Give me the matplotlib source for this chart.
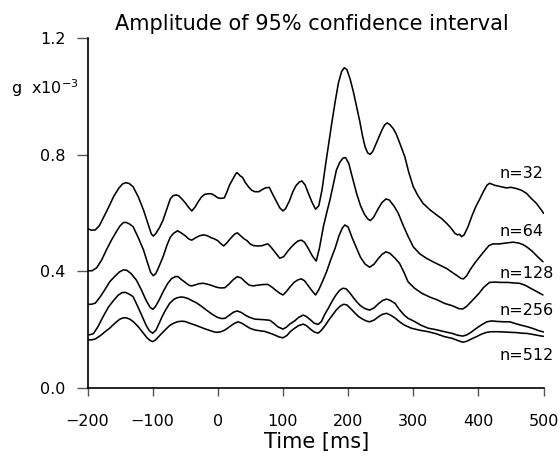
import matplotlib
matplotlib.use("Agg")
import matplotlib.pyplot as plt

plt.rcParams['font.family'] = ['DejaVu Sans']

title = "Amplitude of 95% confidence interval"
xlabel = "Time [ms]"
ylabel = "g  x10$^{-3}$"
labels = ["n=32", "n=64", "n=128", "n=256", "n=512"]
label_y = [0.737, 0.535, 0.394, 0.267, 0.110]
label_x = 432
xticks = [-200, -100, 0, 100, 200, 300, 400, 500]
yticks = [0.0, 0.4, 0.8, 1.2]

x32 = [-200, -194, -188, -182, -176, -168, -160, -152, -146, -141, -136, -130, -122, -114, -107, -102, -99, -95, -89,
       -84, -78, -73, -69, -64, -60, -55, -50, -45, -40, -35, -30, -25, -20, -15, -10, -5, 0, 5, 10, 14, 18, 23, 28, 30,
       34, 38, 42, 47, 52, 57, 63, 68, 73, 79, 84, 90, 95, 100, 104, 110, 115, 120, 125, 129, 134, 139, 145, 150, 155,
       160, 165, 170, 175, 180, 185, 190, 194, 198, 203, 208, 213, 218, 222, 226, 230, 234, 238, 242, 247, 252, 256,
       260, 264, 269, 274, 280, 287, 293, 300, 307, 315, 325, 336, 344, 351, 358, 364, 368, 371, 374, 378, 384, 390,
       396, 402, 408, 413, 417, 425, 435, 443, 450, 458, 466, 474, 481, 489, 495, 500]
v32 = [0.547, 0.541, 0.542, 0.556, 0.582, 0.618, 0.656, 0.685, 0.700, 0.704, 0.701, 0.690, 0.655, 0.610, 0.562, 0.528,
       0.521, 0.530, 0.552, 0.576, 0.615, 0.648, 0.659, 0.662, 0.659, 0.648, 0.635, 0.620, 0.607, 0.620, 0.639, 0.655,
       0.664, 0.666, 0.666, 0.660, 0.652, 0.650, 0.652, 0.672, 0.696, 0.716, 0.736, 0.738, 0.728, 0.722, 0.705, 0.690,
       0.678, 0.673, 0.673, 0.680, 0.686, 0.688, 0.665, 0.639, 0.618, 0.607, 0.615, 0.642, 0.672, 0.694, 0.706, 0.710,
       0.696, 0.667, 0.635, 0.613, 0.625, 0.680, 0.760, 0.835, 0.910, 0.980, 1.045, 1.085, 1.098, 1.092, 1.060, 1.016,
       0.965, 0.913, 0.865, 0.827, 0.806, 0.801, 0.812, 0.833, 0.860, 0.885, 0.902, 0.909, 0.903, 0.890, 0.870, 0.835,
       0.793, 0.740, 0.690, 0.660, 0.633, 0.612, 0.593, 0.580, 0.565, 0.548, 0.530, 0.525, 0.527, 0.519, 0.525, 0.553,
       0.590, 0.622, 0.648, 0.675, 0.695, 0.702, 0.695, 0.690, 0.686, 0.688, 0.684, 0.678, 0.667, 0.650, 0.633, 0.615,
       0.599]

x64 = [-200, -193, -186, -178, -170, -163, -156, -150, -145, -141, -136, -130, -122, -114, -108, -103, -99, -95, -90,
       -84, -78, -73, -68, -62, -57, -50, -44, -40, -34, -28, -22, -16, -10, -5, 0, 5, 9, 14, 20, 26, 30, 35, 40, 45, 50,
       55, 62, 68, 73, 77, 82, 88, 95, 101, 107, 113, 118, 123, 128, 133, 139, 145, 151, 156, 162, 167, 172, 177, 182,
       187, 192, 196, 201, 207, 213, 219, 225, 230, 234, 239, 246, 252, 258, 263, 270, 277, 284, 292, 300, 310, 320,
       330, 340, 351, 360, 368, 373, 377, 382, 388, 395, 402, 410, 416, 422, 432, 442, 453, 462, 468, 474, 482, 490, 499]
v64 = [0.402, 0.402, 0.412, 0.440, 0.478, 0.508, 0.535, 0.556, 0.567, 0.568, 0.563, 0.553, 0.515, 0.473, 0.430, 0.396,
       0.385, 0.393, 0.418, 0.450, 0.490, 0.517, 0.530, 0.539, 0.533, 0.522, 0.510, 0.507, 0.515, 0.522, 0.525, 0.522,
       0.515, 0.511, 0.505, 0.494, 0.487, 0.498, 0.514, 0.528, 0.532, 0.522, 0.512, 0.505, 0.493, 0.488, 0.487, 0.488,
       0.492, 0.494, 0.482, 0.465, 0.445, 0.450, 0.468, 0.484, 0.495, 0.504, 0.507, 0.500, 0.478, 0.453, 0.435, 0.480,
       0.553, 0.600, 0.644, 0.695, 0.747, 0.773, 0.788, 0.790, 0.770, 0.718, 0.667, 0.625, 0.596, 0.580, 0.574, 0.585,
       0.614, 0.636, 0.648, 0.645, 0.625, 0.599, 0.560, 0.520, 0.484, 0.460, 0.445, 0.433, 0.422, 0.410, 0.396, 0.384,
       0.376, 0.374, 0.385, 0.408, 0.430, 0.450, 0.472, 0.488, 0.494, 0.494, 0.497, 0.500, 0.497, 0.492, 0.484, 0.470,
       0.452, 0.433]

x128 = [-200, -194, -188, -180, -172, -166, -158, -151, -145, -140, -133, -125, -117, -110, -104, -100, -96, -90, -84,
        -77, -71, -65, -61, -56, -50, -44, -40, -34, -28, -22, -16, -10, -4, 1, 6, 11, 17, 23, 30, 36, 42, 48, 54, 60,
        66, 72, 77, 83, 89, 95, 100, 105, 111, 117, 123, 128, 133, 139, 145, 150, 155, 161, 167, 173, 180, 186, 191,
        195, 200, 206, 213, 219, 226, 233, 240, 246, 252, 258, 264, 272, 279, 286, 292, 302, 313, 325, 337, 348, 360,
        370, 376, 382, 388, 394, 401, 408, 417, 425, 435, 445, 455, 463, 472, 480, 490, 499]
v128 = [0.287, 0.287, 0.291, 0.314, 0.342, 0.364, 0.383, 0.398, 0.405, 0.404, 0.392, 0.370, 0.335, 0.300, 0.277, 0.270,
        0.278, 0.302, 0.330, 0.358, 0.375, 0.382, 0.382, 0.372, 0.362, 0.352, 0.350, 0.354, 0.358, 0.359, 0.356, 0.352,
        0.347, 0.344, 0.343, 0.344, 0.356, 0.370, 0.382, 0.377, 0.364, 0.353, 0.350, 0.352, 0.354, 0.355, 0.355, 0.346,
        0.335, 0.325, 0.319, 0.330, 0.347, 0.362, 0.371, 0.374, 0.368, 0.350, 0.332, 0.319, 0.337, 0.367, 0.399, 0.438,
        0.479, 0.522, 0.548, 0.559, 0.552, 0.516, 0.479, 0.448, 0.425, 0.414, 0.425, 0.443, 0.458, 0.467, 0.462, 0.445,
        0.427, 0.395, 0.364, 0.342, 0.325, 0.312, 0.302, 0.290, 0.282, 0.272, 0.271, 0.280, 0.294, 0.308, 0.325, 0.345,
        0.362, 0.363, 0.362, 0.362, 0.360, 0.359, 0.352, 0.342, 0.330, 0.319]

x256 = [-200, -196, -191, -184, -176, -168, -160, -153, -147, -142, -136, -130, -123, -116, -110, -105, -100, -95, -90,
        -85, -80, -74, -68, -63, -57, -52, -46, -40, -32, -25, -18, -10, -3, 1, 6, 11, 18, 24, 30, 36, 42, 48, 57, 65,
        72, 80, 86, 92, 100, 105, 111, 118, 124, 131, 136, 142, 148, 154, 159, 164, 170, 175, 181, 187, 192, 197, 203,
        208, 213, 219, 226, 233, 240, 247, 253, 259, 265, 272, 279, 286, 292, 302, 312, 323, 335, 348, 360, 368, 376,
        382, 388, 397, 405, 413, 420, 430, 440, 448, 458, 466, 475, 485, 492, 500]
v256 = [0.182, 0.183, 0.186, 0.210, 0.245, 0.277, 0.300, 0.318, 0.327, 0.328, 0.322, 0.313, 0.280, 0.245, 0.215, 0.196,
        0.188, 0.198, 0.222, 0.247, 0.268, 0.290, 0.303, 0.309, 0.312, 0.311, 0.307, 0.300, 0.291, 0.280, 0.268, 0.255,
        0.245, 0.241, 0.238, 0.239, 0.250, 0.260, 0.264, 0.259, 0.250, 0.243, 0.236, 0.235, 0.234, 0.232, 0.222, 0.210,
        0.202, 0.208, 0.220, 0.230, 0.242, 0.250, 0.245, 0.234, 0.222, 0.218, 0.228, 0.252, 0.275, 0.296, 0.318, 0.335,
        0.342, 0.340, 0.325, 0.310, 0.296, 0.282, 0.272, 0.267, 0.275, 0.290, 0.300, 0.305, 0.300, 0.290, 0.268, 0.250,
        0.239, 0.228, 0.215, 0.205, 0.200, 0.193, 0.187, 0.181, 0.178, 0.182, 0.190, 0.205, 0.217, 0.227, 0.230, 0.228,
        0.227, 0.227, 0.220, 0.215, 0.210, 0.203, 0.197, 0.192]

x512 = [-200, -194, -188, -180, -173, -166, -158, -151, -146, -141, -135, -129, -122, -115, -109, -104, -100, -96, -90,
        -85, -80, -74, -68, -62, -56, -50, -43, -35, -28, -20, -12, -5, -1, 5, 11, 18, 25, 31, 37, 44, 50, 57, 65, 72,
        80, 87, 94, 100, 106, 112, 118, 124, 131, 136, 142, 148, 154, 159, 165, 170, 176, 182, 188, 193, 198, 204, 210,
        216, 223, 229, 233, 240, 247, 253, 259, 265, 272, 279, 286, 297, 310, 323, 335, 348, 360, 368, 376, 382, 388,
        397, 405, 413, 420, 430, 440, 448, 458, 466, 475, 485, 492, 500]
v512 = [0.165, 0.165, 0.168, 0.180, 0.193, 0.205, 0.222, 0.235, 0.240, 0.241, 0.236, 0.226, 0.210, 0.190, 0.173, 0.163,
        0.159, 0.164, 0.178, 0.190, 0.201, 0.214, 0.222, 0.227, 0.229, 0.228, 0.222, 0.216, 0.210, 0.203, 0.197, 0.192,
        0.191, 0.193, 0.199, 0.210, 0.221, 0.227, 0.222, 0.212, 0.204, 0.199, 0.196, 0.194, 0.188, 0.182, 0.175, 0.172,
        0.180, 0.195, 0.205, 0.214, 0.219, 0.214, 0.202, 0.192, 0.188, 0.198, 0.215, 0.232, 0.250, 0.268, 0.281, 0.287,
        0.285, 0.272, 0.258, 0.245, 0.235, 0.229, 0.227, 0.233, 0.245, 0.253, 0.256, 0.250, 0.240, 0.227, 0.216, 0.205,
        0.198, 0.193, 0.186, 0.176, 0.170, 0.163, 0.157, 0.160, 0.167, 0.176, 0.185, 0.191, 0.193, 0.193, 0.192, 0.191,
        0.190, 0.188, 0.187, 0.183, 0.180, 0.177]

series = [(x32, v32), (x64, v64), (x128, v128), (x256, v256), (x512, v512)]

fig = plt.figure(figsize=(5.6, 4.62), dpi=100)
ax = fig.add_axes([87.5 / 560, 1 - 388 / 462, (543.6 - 87.5) / 560, (388 - 38) / 462])

for xs, vs in series:
    ax.plot(xs, vs, color='black', lw=1.15, solid_joinstyle='round', solid_capstyle='round')

for lab, ly in zip(labels, label_y):
    ax.text(label_x, ly, lab, fontsize=11.5, ha='left', va='center', color='black')

ax.set_xlim(-200, 500)
ax.set_ylim(0, 1.2)
ax.set_xticks(xticks)
ax.set_yticks(yticks)
ax.set_yticklabels([f"{t:.1f}" for t in yticks])
for s in ['top', 'right']:
    ax.spines[s].set_visible(False)
ax.spines['left'].set_linewidth(1.2)
ax.spines['bottom'].set_linewidth(1.2)
ax.tick_params(axis='x', direction='out', length=6, width=1.0, pad=13, labelsize=11.5, color='#555555')
ax.tick_params(axis='y', direction='out', length=8, width=1.0, pad=8, labelsize=11.5, color='#555555')

fig.text(312 / 560, 1 - 24 / 462, title, ha='center', va='center', fontsize=15)
fig.text(317 / 560, 1 - 442 / 462, xlabel, ha='center', va='center', fontsize=15)
fig.text(11 / 560, 1 - 88 / 462, ylabel, ha='left', va='center', fontsize=11.5)

fig.savefig("out.png", dpi=100)
